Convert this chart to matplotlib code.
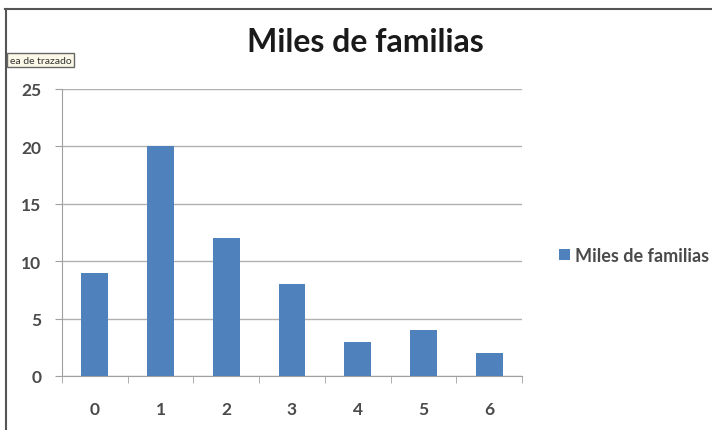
import matplotlib.pyplot as plt
from matplotlib.lines import Line2D
import numpy as np

categorias = ['0', '1', '2', '3', '4', '5', '6']
miles_familias = [9, 20, 12, 8, 3, 4, 2]
y_ticks = [0, 5, 10, 15, 20, 25]

plt.rcParams['font.family'] = ['Lato', 'DejaVu Sans']

fig = plt.figure(figsize=(7.12, 4.31), dpi=100)
ax = fig.add_axes([62 / 712, 1 - 377 / 431, 460 / 712, 287 / 431])

x = np.arange(len(categorias))
ax.bar(x, miles_familias, width=0.41, color='#4F81BD', label='Miles de familias', zorder=3)

ax.set_xlim(-0.5, len(categorias) - 0.5)
ax.set_ylim(0, 25)
ax.set_yticks(y_ticks)
ax.set_xticks(x)
ax.set_xticklabels(categorias, fontweight='bold')
ax.set_yticklabels([str(v) for v in y_ticks], fontweight='bold')
ax.set_xticks(np.arange(-0.5, len(categorias), 1.0), minor=True)
ax.tick_params(axis='x', which='major', length=0, pad=18, labelsize=12.5, colors='#4a4a4a')
ax.tick_params(axis='x', which='minor', length=5, color='#a0a0a0')
ax.tick_params(axis='y', length=5, color='#a0a0a0', labelsize=12.5, labelcolor='#4a4a4a', pad=10)

ax.grid(axis='y', color='#b0b0b0', linewidth=1, zorder=0)
for lado in ['top', 'right']:
    ax.spines[lado].set_visible(False)
ax.spines['left'].set_color('#a0a0a0')
ax.spines['bottom'].set_color('#a0a0a0')

fig.text(365 / 712, 1 - 43 / 431, 'Miles de familias', ha='center', va='center',
         fontsize=23, fontweight='bold', color='#1a1a1a')

ax.legend(loc='center left', bbox_to_anchor=(1.045, 0.42), frameon=False,
          prop={'size': 13, 'weight': 'bold'}, handlelength=0.6, handleheight=0.6,
          handletextpad=0.3, labelcolor='#4a4a4a')

# marco de la captura
fig.add_artist(Line2D([5 / 712, 1], [1 - 10 / 431, 1 - 10 / 431], color='#555555', linewidth=1.5))
fig.add_artist(Line2D([6 / 712, 6 / 712], [0, 1 - 10 / 431], color='#555555', linewidth=1.5))

# etiqueta recortada arriba a la izquierda
fig.text(10 / 712, 1 - 61 / 431, 'ea de trazado', ha='left', va='center', fontsize=7.5,
         color='#333333',
         bbox=dict(boxstyle='square,pad=0.25', facecolor='#fbf8e8', edgecolor='#666666', linewidth=1))

fig.savefig('out.png', dpi=100)
